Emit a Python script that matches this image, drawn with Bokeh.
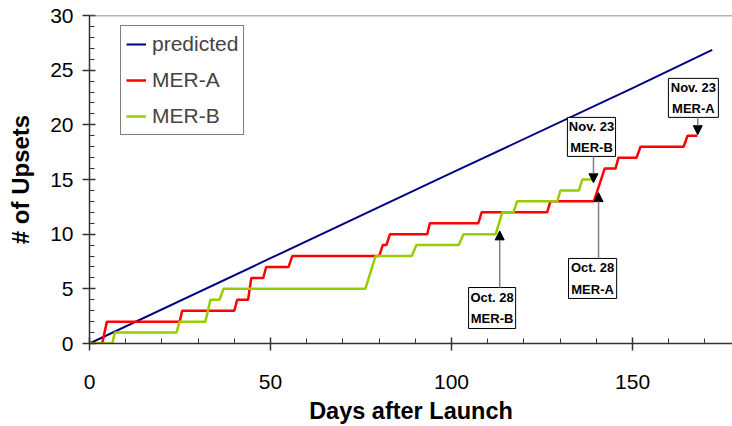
from bokeh.plotting import figure
from bokeh.models import (Legend, LegendItem, SingleIntervalTicker, Span, Arrow,
                          NormalHead, Range1d)
from bokeh.core.properties import value
from bokeh.embed import file_html
from bokeh.resources import INLINE

# ---- data ----
PRED_DAYS = [0, 50, 100, 150, 172]
PRED_UPSETS = [0, 7.8, 15.6, 23.35, 26.85]

MERA_DAYS = [0, 3.5, 4.8, 24.9, 25.6, 40.0, 40.8, 43.8, 44.7, 48.0, 48.8, 55.0, 56.0,
             80.0, 81.0, 82.0, 83.0, 93.3, 94.0, 107.4, 108.3, 126.4, 127.3, 139.3,
             142.3, 145.3, 146.1, 151.1, 152.2, 164.1, 165.2, 167.9]
MERA_UPSETS = [0, 0, 2, 2, 3, 3, 4, 4, 6, 6, 7, 7, 8,
               8, 9, 9, 10, 10, 11, 11, 12, 12, 13, 13,
               16, 16, 17, 17, 18, 18, 19, 19]

MERB_DAYS = [0, 6.3, 7.0, 24.0, 24.9, 32.0, 33.4, 35.9, 37.0, 76.2, 79.0, 89.0, 90.3,
             102.0, 103.3, 112.2, 114.0, 117.1, 118.1, 129.2, 130.1, 135.2, 136.1, 139.3]
MERB_UPSETS = [0, 0, 1, 1, 2, 2, 4, 4, 5, 5, 8, 8, 9,
               9, 10, 10, 12, 12, 13, 13, 14, 14, 15, 15]

ANN_TEXT = ["Oct. 28\nMER-B", "Oct. 28\nMER-A", "Nov. 23\nMER-B", "Nov. 23\nMER-A"]
ANN_DAY = [113.3, 140.6, 139.2, 168.0]        # arrow x
ANN_TIP = [10.3, 13.8, 14.7, 19.1]            # value the arrow points to
ANN_BOX_LEFT = [104.7, 132.3, 132.0, 159.9]
ANN_BOX_RIGHT = [117.7, 145.6, 145.3, 173.7]
ANN_BOX_BOTTOM = [1.37, 4.12, 17.11, 20.68]
ANN_BOX_TOP = [5.12, 7.78, 20.68, 24.25]

X_MAX = 177.6
Y_MAX = 30
X_LABEL = "Days after Launch"
Y_LABEL = "# of Upsets"

p = figure(width=732, height=426, output_backend="svg", toolbar_location=None,
           x_range=Range1d(0, X_MAX), y_range=Range1d(0, Y_MAX),
           min_border_left=89, min_border_right=0, min_border_top=15, min_border_bottom=83)
p.xgrid.visible = False
p.ygrid.visible = False
p.outline_line_color = None
p.background_fill_color = "white"

p.xaxis.ticker = SingleIntervalTicker(interval=50, num_minor_ticks=5)
p.yaxis.ticker = SingleIntervalTicker(interval=5, num_minor_ticks=5)
for ax in (p.xaxis, p.yaxis):
    ax.axis_line_color = "#333333"
    ax.axis_line_width = 1.5
    ax.major_tick_line_color = "#333333"
    ax.major_tick_line_width = 1.5
    ax.minor_tick_line_color = "#333333"
    ax.minor_tick_line_width = 1
    ax.major_tick_in = 6
    ax.major_tick_out = 7
    ax.minor_tick_in = 5
    ax.minor_tick_out = 0
    ax.major_label_text_font = "Liberation Sans"
    ax.major_label_text_font_size = "21px"
    ax.major_label_text_color = "black"
    ax.axis_label_text_font = "Liberation Sans"
    ax.axis_label_text_font_style = "bold"
    ax.axis_label_text_color = "black"

p.xaxis.axis_label = X_LABEL
p.xaxis.axis_label_text_font_size = "23.5px"
p.xaxis.axis_label_text_line_height = 0.8
p.xaxis.major_label_standoff = 24
p.xaxis.axis_label_standoff = 6
p.yaxis.axis_label = Y_LABEL
p.yaxis.axis_label_text_font_size = "24px"
p.yaxis.major_label_standoff = 9
p.yaxis.axis_label_standoff = 13

p.add_layout(Span(location=Y_MAX, dimension="width", line_color="#666666", line_width=1.5))

r_pred = p.line(PRED_DAYS, PRED_UPSETS, line_color="#000080", line_width=2)
r_a = p.line(MERA_DAYS, MERA_UPSETS, line_color="#FF0000", line_width=2.5)
r_b = p.line(MERB_DAYS, MERB_UPSETS, line_color="#99CC00", line_width=2.5)

# annotation boxes, text, arrows
box_cx = [(l + r) / 2 for l, r in zip(ANN_BOX_LEFT, ANN_BOX_RIGHT)]
box_cy = [(b + t) / 2 for b, t in zip(ANN_BOX_BOTTOM, ANN_BOX_TOP)]
p.quad(left=ANN_BOX_LEFT, right=ANN_BOX_RIGHT, bottom=ANN_BOX_BOTTOM, top=ANN_BOX_TOP,
       fill_color="white", line_color="black", line_width=1)
p.text(x=box_cx, y=box_cy, text=ANN_TEXT, text_font=value("Liberation Sans"),
       text_font_style="bold", text_font_size="13px", text_align="center",
       text_baseline="middle", text_line_height=1.45, text_color="black")
for xd, tip, b, t in zip(ANN_DAY, ANN_TIP, ANN_BOX_BOTTOM, ANN_BOX_TOP):
    start = t if tip > t else b
    p.add_layout(Arrow(end=NormalHead(size=9, fill_color="black", line_color="black"),
                       x_start=xd, y_start=start, x_end=xd, y_end=tip,
                       line_color="#808080", line_width=1.5))

legend = Legend(items=[LegendItem(label="predicted", renderers=[r_pred]),
                       LegendItem(label="MER-A", renderers=[r_a]),
                       LegendItem(label="MER-B", renderers=[r_b])],
                location=(31, 208))
legend.label_text_font = "Liberation Sans"
legend.label_text_font_size = "21px"
legend.glyph_width = 20
legend.glyph_height = 26
legend.label_height = 26
legend.spacing = 10
legend.padding = 5
legend.margin = 0
legend.label_standoff = 6
legend.border_line_color = "black"
legend.border_line_width = 1.2
legend.background_fill_color = "white"
legend.background_fill_alpha = 1
p.add_layout(legend)

open("out.html", "w").write(file_html(p, INLINE))
